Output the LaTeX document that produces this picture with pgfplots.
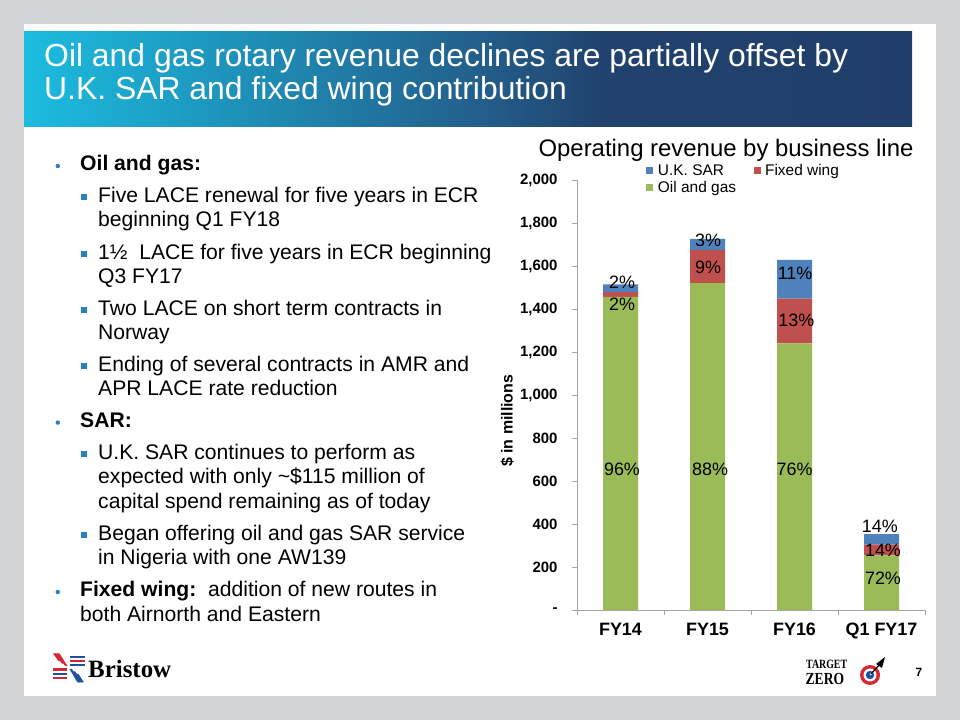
\documentclass[border=0pt]{standalone}
\usepackage{pgfplots}
\pgfplotsset{compat=1.18}
\usepackage{fontspec}
\setmainfont{Liberation Sans}
\newfontfamily\seriffont{Liberation Serif}
\definecolor{bgray}{RGB}{211,212,214}
\definecolor{sarblue}{RGB}{79,129,189}
\definecolor{fwred}{RGB}{192,80,77}
\definecolor{oggreen}{RGB}{155,187,89}
\definecolor{bullblue}{RGB}{40,128,192}
\definecolor{axgray}{RGB}{165,165,165}
\definecolor{cA}{RGB}{28,188,224}
\definecolor{cB}{RGB}{30,140,180}
\definecolor{cC}{RGB}{35,95,140}
\definecolor{cD}{RGB}{33,66,110}
\definecolor{cE}{RGB}{33,62,106}
\definecolor{logored}{RGB}{214,40,50}
\definecolor{logoblue}{RGB}{30,80,160}
\pgfdeclarehorizontalshading{banner}{100bp}{color(0bp)=(cA); color(25bp)=(cA); color(38.5bp)=(cB); color(50.5bp)=(cC); color(57.5bp)=(cD); color(75bp)=(cE); color(100bp)=(cE)}
\newcommand{\bfs}{\fontsize{21.2}{21.2}\selectfont}
\newcommand{\pctlabels}{%
\node[pct] at (axis cs:0.017,1522) {2\%};
\node[pct] at (axis cs:0.017,1423) {2\%};
\node[pct] at (axis cs:0.017,656) {96\%};
\node[pct] at (axis cs:1.006,1721) {3\%};
\node[pct] at (axis cs:1.006,1592) {9\%};
\node[pct] at (axis cs:1.03,656) {88\%};
\node[pct] at (axis cs:2.006,1567) {11\%};
\node[pct] at (axis cs:2.02,1349) {13\%};
\node[pct] at (axis cs:2.0,656) {76\%};
\node[pct] at (axis cs:2.98,387) {14\%};
\node[pct] at (axis cs:3.017,276) {14\%};
\node[pct] at (axis cs:3.017,147) {72\%};}
\begin{document}
\begin{tikzpicture}[x=1bp,y=1bp,
  line/.style={anchor=base west, inner sep=0pt, font=\bfs},
  pct/.style={font=\fontsize{18}{18}\selectfont, inner sep=0pt}]
\useasboundingbox (0,0) rectangle (960,720);
\fill[bgray] (0,0) rectangle (960,720);
\fill[white] (24,24) rectangle (936,696);
\shade[shading=banner] (24,593) rectangle (912,688);
\node[anchor=base west, inner sep=0pt, text=white, font=\fontsize{32}{32}\selectfont] at (44,653) {Oil and gas rotary revenue declines are partially offset by};
\node[anchor=base west, inner sep=0pt, text=white, font=\fontsize{32}{32}\selectfont] at (44,620) {U.K. SAR and fixed wing contribution};
% bullets
\foreach \y in {549.3,292.7,123.3} {\fill[bullblue] (57.8,\y+4.7) circle (2.2);}
\foreach \y in {517.3,460.7,404.3,348.3,260.7,179.3} {\fill[bullblue] (80.7,\y+2.4) rectangle (86.7,\y+8.4);}
\node[line] at (80,549.3) {\textbf{Oil and gas:}};
\node[line] at (98,517.3) {Five LACE renewal for five years in ECR};
\node[line] at (98,493.3) {beginning Q1 FY18};
\node[line] at (98,460.7) {1½\ \ LACE for five years in ECR beginning};
\node[line] at (98,436.7) {Q3 FY17};
\node[line] at (98,404.3) {Two LACE on short term contracts in};
\node[line] at (98,380.7) {Norway};
\node[line] at (98,348.3) {Ending of several contracts in AMR and};
\node[line] at (98,324) {APR LACE rate reduction};
\node[line] at (80,292.7) {\textbf{SAR:}};
\node[line] at (98,260.7) {U.K. SAR continues to perform as};
\node[line] at (98,236.7) {expected with only \textasciitilde\$115 million of};
\node[line] at (98,211.7) {capital spend remaining as of today};
\node[line] at (98,179.3) {Began offering oil and gas SAR service};
\node[line] at (98,155) {in Nigeria with one AW139};
\node[line] at (80,123.3) {\textbf{Fixed wing:}\ \ addition of new routes in};
\node[line] at (80,98.3) {both Airnorth and Eastern};
% chart title
\node[anchor=base, inner sep=0pt, font=\fontsize{24}{24}\selectfont] at (726,563) {Operating revenue by business line};
\begin{axis}[
  at={(577bp,110bp)}, anchor=south west,
  scale only axis, width=348bp, height=430bp,
  ybar stacked, bar width=35bp,
  xmin=-0.5, xmax=3.5, ymin=0, ymax=2000,
  axis x line*=bottom, axis y line*=left,
  axis line style={draw=axgray, line width=0.8bp},
  xtick={-0.5,0.5,1.5,2.5,3.5},
  xticklabels={FY14,FY15,FY16,Q1 FY17,{}},
  x tick label style={xshift=43.5bp, yshift=-4bp, anchor=north, text height=13bp, text depth=4bp, font=\bfseries\fontsize{18}{18}\selectfont},
  ytick={0,200,...,2000},
  yticklabels={-\hspace{6bp},200,400,600,800,{1,000},{1,200},{1,400},{1,600},{1,800},{2,000}},
  y tick label style={font=\bfseries\fontsize{15}{15}\selectfont, xshift=-11bp},
  tick align=outside, major tick length=5bp,
  tick style={draw=axgray, line width=0.8bp},
  ylabel={\$ in millions},
  every axis y label/.style={at={(rel axis cs:-0.2,0.44)}, rotate=90, anchor=center, font=\bfseries\fontsize{16}{16}\selectfont},
  legend style={at={(rel axis cs:0.199,1.04)}, anchor=north west, draw=none, fill=none,
    font=\fontsize{15.5}{15.5}\selectfont, inner sep=0pt, row sep=1bp,
    nodes={inner sep=1.5bp},
    /tikz/every even column/.append style={column sep=16bp}},
  legend columns=2, legend cell align=left, reverse legend,
  legend image code/.code={\fill[#1] (0bp,-3.5bp) rectangle (7bp,3.5bp); \path (10bp,0bp);},
  after end axis/.code={\pctlabels},
]
\addplot[fill=oggreen, draw=none] coordinates {(0,1456) (1,1520) (2,1240) (3,254)};
\addplot[fill=fwred, draw=none] coordinates {(0,23) (1,154) (2,208) (3,50)};
\addplot[fill=sarblue, draw=none] coordinates {(0,36) (1,52) (2,180) (3,49)};
\legend{Oil and gas, Fixed wing, U.K. SAR}
\end{axis}
% Bristow logo
\begin{scope}[shift={(68.5,52.5)}]
  \foreach \d in {0,4,8} {
    \fill[logored] (-1-\d*0.8,1.5+\d*0.6) -- (-3.5-\d*0.8,1.5+\d*0.6) -- (-11.5-\d*0.5,14) -- (-9-\d*0.5,14) -- cycle;
  }
  \fill[logoblue] (1.5,1) rectangle (16,3.3);
  \fill[logored] (1.5,5.3) rectangle (16,7.6);
  \fill[logoblue] (1.5,9.6) rectangle (16,11.9);
  \fill[logored] (-1.5,-1) rectangle (-16,-3.3);
  \fill[logoblue] (-1.5,-5.3) rectangle (-16,-7.6);
  \fill[logored] (-1.5,-9.6) rectangle (-16,-11.9);
  \foreach \d in {0,4,8} {
    \fill[logoblue] (1+\d*0.8,-1.5-\d*0.6) -- (3.5+\d*0.8,-1.5-\d*0.6) -- (11.5+\d*0.5,-15) -- (9+\d*0.5,-15) -- cycle;
  }
\end{scope}
\node[anchor=base west, inner sep=0pt, font=\seriffont\bfseries\fontsize{25}{25}\selectfont] at (88,42) {Bristow};
% Target Zero logo
\node[anchor=base west, inner sep=0pt, font=\seriffont\bfseries\fontsize{12.7}{12.7}\selectfont] at (806,51) {\scalebox{0.78}[1]{TARGET}};
\node[anchor=base west, inner sep=0pt, font=\seriffont\bfseries\fontsize{17}{17}\selectfont] at (805.5,35.5) {\scalebox{0.8}[1]{ZERO}};
\fill[logored] (870,45) circle (10);
\fill[white] (870,45) circle (6.5);
\fill[logoblue] (870,45) circle (4.2);
\fill[white] (871,46) circle (1.3);
\draw[black, line width=1.2bp] (871,46) -- (880,56);
\fill[black] (876,56) -- (885,63) -- (882,52) -- cycle;
\node[font=\bfseries\fontsize{12}{12}\selectfont, inner sep=0pt] at (919,48) {7};
\end{tikzpicture}
\end{document}
